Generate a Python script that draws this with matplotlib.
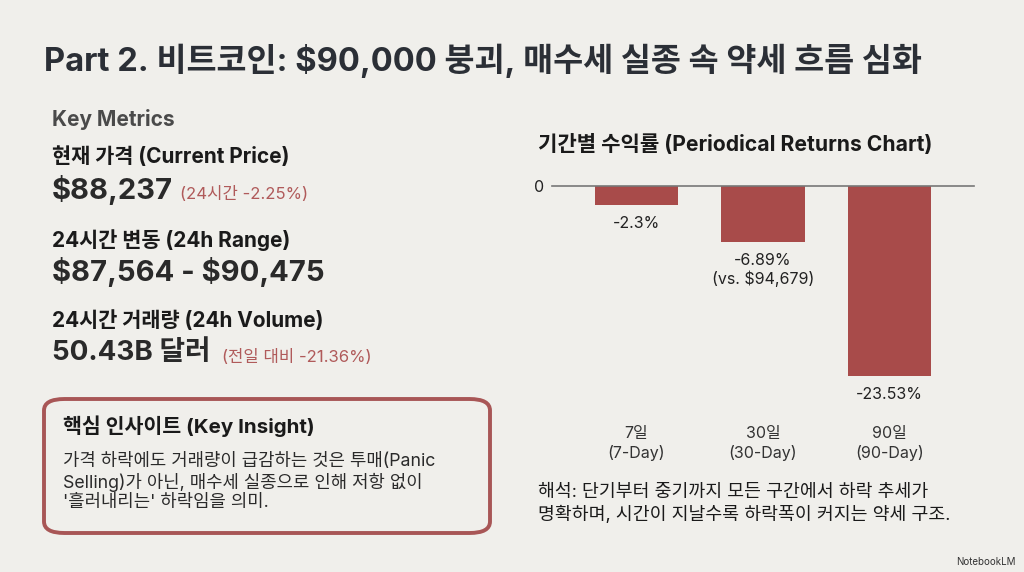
import matplotlib.pyplot as plt
from matplotlib.patches import FancyBboxPatch

plt.rcParams['font.family'] = ['Inter', 'Noto Sans CJK KR', 'DejaVu Sans']

# data
periods = ['7일\n(7-Day)', '30일\n(30-Day)', '90일\n(90-Day)']
returns = [-2.3, -6.89, -23.53]
bar_labels = ['-2.3%', '-6.89%\n(vs. \\$94,679)', '-23.53%']

title = 'Part 2. 비트코인: \\$90,000 붕괴, 매수세 실종 속 약세 흐름 심화'
chart_title = '기간별 수익률 (Periodical Returns Chart)'
metric_names = ['현재 가격 (Current Price)', '24시간 변동 (24h Range)', '24시간 거래량 (24h Volume)']
metric_values = ['\\$88,237', '\\$87,564 - \\$90,475', '50.43B 달러']
metric_notes = ['(24시간 -2.25%)', '', '(전일 대비 -21.36%)']
insight_title = '핵심 인사이트 (Key Insight)'
insight_lines = ['가격 하락에도 거래량이 급감하는 것은 투매(Panic',
                 'Selling)가 아닌, 매수세 실종으로 인해 저항 없이',
                 "'흘러내리는' 하락임을 의미."]
note_lines = ['해석: 단기부터 중기까지 모든 구간에서 하락 추세가',
              '명확하며, 시간이 지날수록 하락폭이 커지는 약세 구조.']

bg = '#f0efeb'
red = '#a84b4a'
dark = '#2b2f36'
W, H = 1024, 572

fig = plt.figure(figsize=(W/100, H/100), dpi=100, facecolor=bg)

def fx(px):
    return px / W

def fy(py):
    return 1 - py / H

fig.text(fx(44), fy(61), title, fontsize=23.5, fontweight='bold', color=dark, va='center')

# left metrics
fig.text(fx(52), fy(119), 'Key Metrics', fontsize=15, fontweight='bold', color='#4a4a4a', va='center')
name_y = [157, 240, 321]
val_y = [190, 272, 353]
val_size = [21, 21, 20]
note_x = [180, None, 222]
for i in range(3):
    fig.text(fx(52), fy(name_y[i]), metric_names[i], fontsize=15, fontweight='bold', color='#1a1a1a', va='center')
    fig.text(fx(52), fy(val_y[i]), metric_values[i], fontsize=val_size[i], fontweight='bold', color='#2a2a2a', va='center')
    if metric_notes[i]:
        fig.text(fx(note_x[i]), fy(val_y[i] + 4), metric_notes[i], fontsize=12, color='#b05a5a', va='center')

# insight box
box = FancyBboxPatch((fx(44), fy(533)), fx(490 - 44), (533 - 399) / H,
                     boxstyle='round,pad=0,rounding_size=0.02',
                     transform=fig.transFigure, facecolor=bg, edgecolor='#a85656', linewidth=2.8)
fig.patches.append(box)
fig.text(fx(63), fy(426), insight_title, fontsize=14.8, fontweight='bold', color='#1a1a1a', va='center')
for k, line in enumerate(insight_lines):
    fig.text(fx(63), fy(462 + 20.5 * k), line, fontsize=12.8, color='#2a2a2a', va='center')

# chart
fig.text(fx(538), fy(144), chart_title, fontsize=15.2, fontweight='bold', color='#1a1a1a', va='center')

ax = fig.add_axes([fx(552), fy(400), fx(974 - 552), (400 - 186) / H])
ax.set_facecolor(bg)
x = list(range(len(periods)))
ax.bar(x, returns, width=0.66, color=red, zorder=2)
ax.axhline(0, color='#777777', linewidth=1.2, zorder=3, clip_on=False)
ax.set_xlim(-0.668, 2.668)
ax.set_ylim(-26.5, 0)
for s in ax.spines.values():
    s.set_visible(False)
ax.set_yticks([0])
ax.set_yticklabels(['0'], fontsize=11.5, color='#222222')
ax.set_xticks(x)
ax.set_xticklabels(periods, fontsize=11.5, color='#333333', linespacing=1.25)
ax.tick_params(length=0)
ax.tick_params(axis='y', pad=6)
ax.tick_params(axis='x', pad=19)
for xi, v, lab in zip(x, returns, bar_labels):
    ax.annotate(lab, (xi, v), xytext=(0, -8), textcoords='offset points',
                ha='center', va='top', fontsize=11.5, color='#222222', linespacing=1.2)

for k, line in enumerate(note_lines):
    fig.text(fx(538), fy(493 + 22 * k), line, fontsize=13.2, color='#1a1a1a', va='center')

fig.text(fx(1016), fy(562), 'NotebookLM', fontsize=7, color='#333333', ha='right', va='center')

plt.savefig('out.png', dpi=100, facecolor=bg)
